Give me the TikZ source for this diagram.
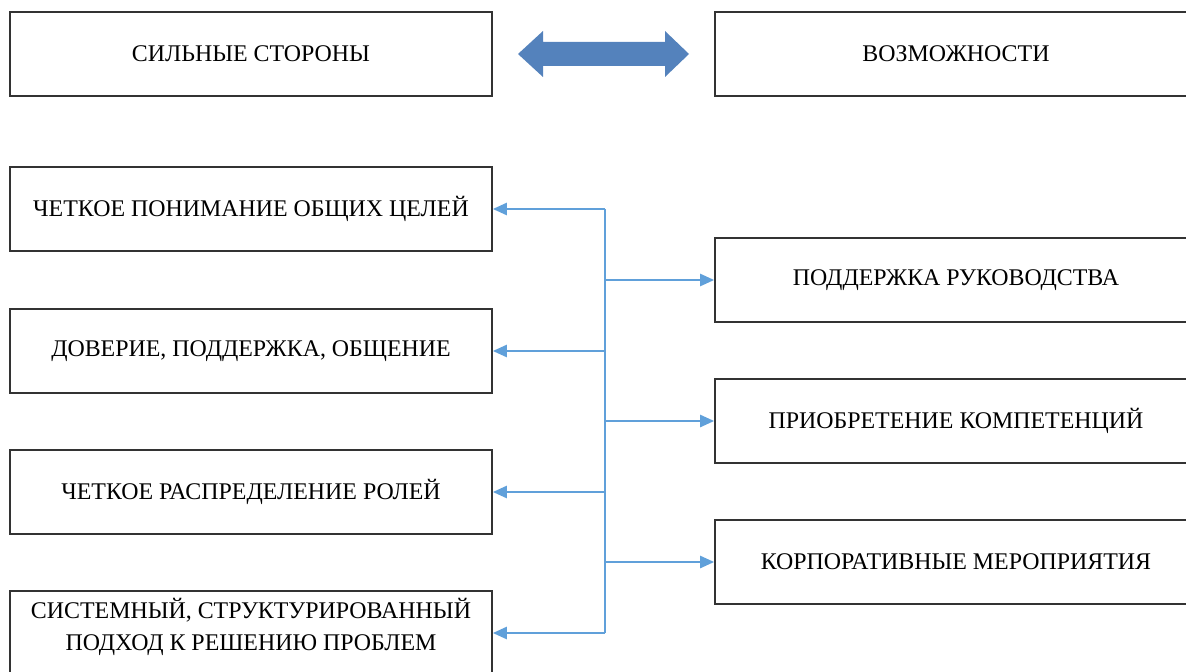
\documentclass[tikz,border=0pt]{standalone}
\usepackage{fontspec}
\setmainfont{Liberation Serif}
\usetikzlibrary{arrows.meta}
\definecolor{linkblue}{RGB}{96,160,218}
\definecolor{arrowblue}{RGB}{84,130,188}
\tikzset{
    box/.style ={
        shape=rectangle,
        draw=black!80,
        line width=1.1pt,
        minimum width=9.64cm,
        minimum height=1.68cm,
        align=center,
        font=\fontsize{13.6}{18.5}\selectfont
    },
    link/.style ={
        draw=linkblue,
        line width=1.1pt,
        -{Triangle[length=8pt,width=7pt]}
    },
    bus/.style ={
        draw=linkblue,
        line width=1.1pt
    }
}

\begin{document}
\begin{tikzpicture}[x=0.02cm,y=-0.02cm]
    \clip (0,0) rectangle (1186,672);
    \node[box] (strong) at(251,54) {СИЛЬНЫЕ СТОРОНЫ};
    \node[box] (opp) at(956,54) {ВОЗМОЖНОСТИ};
    \node[box] (s1) at(251,209) {ЧЕТКОЕ ПОНИМАНИЕ ОБЩИХ ЦЕЛЕЙ};
    \node[box] (s2) at(251,351) {ДОВЕРИЕ, ПОДДЕРЖКА, ОБЩЕНИЕ};
    \node[box] (s3) at(251,492) {ЧЕТКОЕ РАСПРЕДЕЛЕНИЕ РОЛЕЙ};
    \node[box,text depth=10pt] (s4) at(251,633) {СИСТЕМНЫЙ, СТРУКТУРИРОВАННЫЙ\\ПОДХОД К РЕШЕНИЮ ПРОБЛЕМ};
    \node[box] (o1) at(956,280) {ПОДДЕРЖКА РУКОВОДСТВА};
    \node[box] (o2) at(956,421) {ПРИОБРЕТЕНИЕ КОМПЕТЕНЦИЙ};
    \node[box] (o3) at(956,562) {КОРПОРАТИВНЫЕ МЕРОПРИЯТИЯ};
    % big double arrow between the headers
    \fill[arrowblue] (518,54) -- (543,31) -- (543,42) -- (665,42) -- (665,31)
        -- (689,54) -- (665,77) -- (665,66) -- (543,66) -- (543,77) -- cycle;
    % bus line
    \coordinate (j1) at(605,209);
    \coordinate (j4) at(605,633);
    \draw[bus] (j1) -- (j4);
    \draw[link] (j1) -- (s1.east);
    \draw[link] (j1 |- s2) -- (s2.east);
    \draw[link] (j1 |- s3) -- (s3.east);
    \draw[link] (j4) -- (s4.east);
    \draw[link] (j1 |- o1) -- (o1.west);
    \draw[link] (j1 |- o2) -- (o2.west);
    \draw[link] (j1 |- o3) -- (o3.west);
\end{tikzpicture}
\end{document}
